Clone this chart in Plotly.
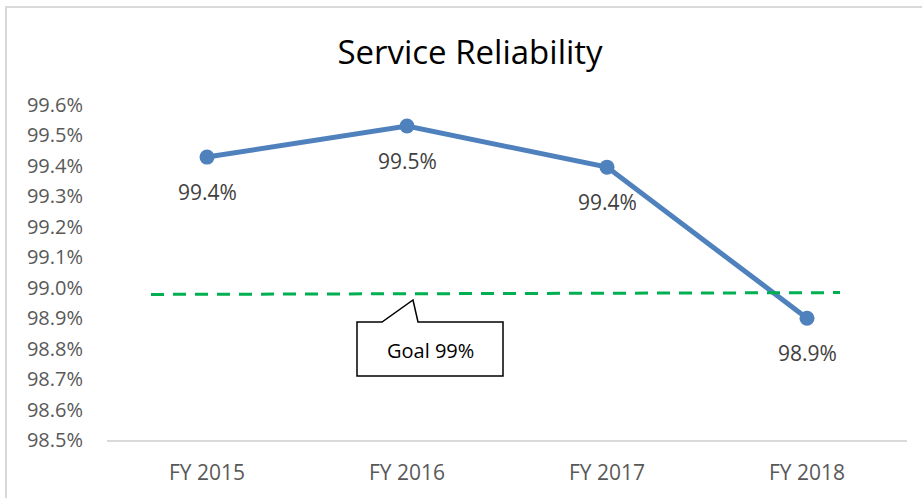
import plotly.graph_objects as go

categories = ["FY 2015", "FY 2016", "FY 2017", "FY 2018"]
reliability = [99.429, 99.531, 99.396, 98.900]
goal_line = [98.978, 98.984]
goal_label = "Goal 99%"
y_ticks = [98.5, 98.6, 98.7, 98.8, 98.9, 99.0, 99.1, 99.2, 99.3, 99.4, 99.5, 99.6]

W, H = 922, 498
L, R, T, B = 107, 907, 105, 440
FONT = "Open Sans"

def px(x, y):
    return (x - L) / (R - L), (B - y) / (B - T)

xs = list(range(len(categories)))
fig = go.Figure()
fig.add_trace(go.Scatter(
    x=xs, y=reliability, mode="lines+markers",
    line=dict(color="#4F81BD", width=5),
    marker=dict(color="#4F81BD", size=15),
    showlegend=False, hoverinfo="skip"))

for xi, v in zip(xs, reliability):
    fig.add_annotation(x=xi, y=v, text=f"{v:.1f}%", showarrow=False,
                       yshift=-35, font=dict(family=FONT, size=21, color="#404040"))

# goal dashed line
gx0, _ = px(151, 0)
gx1, _ = px(840, 0)
fig.add_shape(type="line", xref="paper", yref="y", x0=gx0, x1=gx1,
              y0=goal_line[0], y1=goal_line[1],
              line=dict(color="#00B050", width=3, dash="13px,9px"))

# callout
pts = [(357, 322), (382, 322), (413, 300), (418, 322), (503, 322), (503, 376), (357, 376)]
path = "M " + " L ".join(f"{px(a,b)[0]:.5f},{px(a,b)[1]:.5f}" for a, b in pts) + " Z"
fig.add_shape(type="path", xref="paper", yref="paper", path=path,
              fillcolor="white", line=dict(color="black", width=1.5))
cx, cy = px(430, 350)
fig.add_annotation(xref="paper", yref="paper", x=cx, y=cy, xanchor="center", yanchor="middle",
                   text=goal_label, showarrow=False,
                   font=dict(family=FONT, size=20, color="black"))

# outer border
fig.add_shape(type="path", xref="paper", yref="paper",
              path=f"M {px(6,600)[0]},{px(6,600)[1]} L {px(6,7)[0]},{px(6,7)[1]} L {px(1000,7)[0]},{px(1000,7)[1]}",
              line=dict(color="#D9D9D9", width=2))

fig.update_layout(
    width=W, height=H,
    margin=dict(l=L, r=W - R, t=T, b=H - B, autoexpand=False),
    paper_bgcolor="white", plot_bgcolor="white",
    title=dict(text="Service Reliability", x=(470 - L) / (R - L), xanchor="center",
               xref="paper", y=1 - 52 / H, yanchor="middle",
               font=dict(family=FONT, size=33, color="black")),
    font=dict(family=FONT),
)
fig.update_xaxes(range=[-0.5, 3.5], tickvals=xs, ticktext=categories,
                 showgrid=False, zeroline=False, showline=True, automargin=False,
                 linecolor="#D9D9D9", linewidth=1.5,
                 ticks="", ticklabelstandoff=13,
                 tickfont=dict(family=FONT, size=21, color="#595959"))
fig.update_yaxes(range=[98.5, 99.6], tickvals=y_ticks,
                 ticktext=[f"{t:.1f}%" for t in y_ticks],
                 showgrid=False, zeroline=False, showline=False, automargin=False,
                 ticks="", ticklabelstandoff=23,
                 tickfont=dict(family=FONT, size=20, color="#595959"))

fig.write_html("out.html", config={"displayModeBar": False},
               post_script="document.body.style.margin='0';")
